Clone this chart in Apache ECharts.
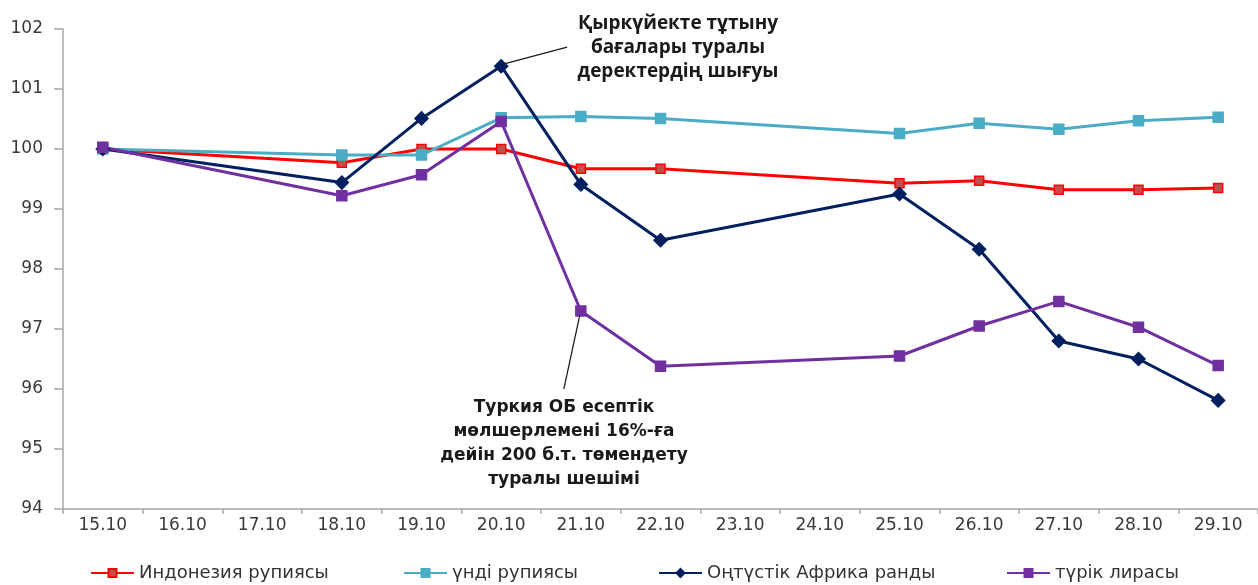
<!DOCTYPE html>
<html>
<head>
<meta charset="utf-8">
<script src="https://cdn.jsdelivr.net/npm/echarts@6/dist/echarts.min.js"></script>
<style>
html,body{margin:0;padding:0;background:#fff;}
#c{width:1258px;height:585px;}
</style>
</head>
<body>
<div id="c"></div>
<script>
const categories = ['15.10','16.10','17.10','18.10','19.10','20.10','21.10','22.10','23.10','24.10','25.10','26.10','27.10','28.10','29.10'];
const names = ['Индонезия рупиясы','үнді рупиясы','Оңтүстік Африка ранды','түрік лирасы'];
const idr = [100.00, null, null, 99.77, 100.00, 100.00, 99.67, 99.67, null, null, 99.43, 99.47, 99.32, 99.32, 99.35];
const inr = [100.00, null, null, 99.90, 99.90, 100.52, 100.54, 100.51, null, null, 100.26, 100.43, 100.33, 100.47, 100.53];
const zar = [100.00, null, null, 99.44, 100.51, 101.38, 99.41, 98.48, null, null, 99.25, 98.33, 96.80, 96.50, 95.81];
const tryL = [100.03, null, null, 99.22, 99.57, 100.46, 97.30, 96.38, null, null, 96.55, 97.05, 97.46, 97.03, 96.39];
const yTicks = {min: 94, max: 102, interval: 1};
const noteTop = ['Қыркүйекте тұтыну', 'бағалары туралы', 'деректердің шығуы'];
const noteBottom = ['Туркия ОБ есептік', 'мөлшерлемені 16%-ға', 'дейін 200 б.т. төмендету', 'туралы шешімі'];
</script>
<script>
const chart = echarts.init(document.getElementById('c'), null, {renderer:'canvas'});
const FONT = 'DejaVu Sans';
function mkSeries(name, data, color, symbol, symbolSize, fill){
  return {
    name, type:'line', data, connectNulls:true, symbol, symbolSize,
    lineStyle:{color, width:3},
    itemStyle:{color: fill, borderColor: color, borderWidth: 1.5},
    emphasis:{disabled:true}, animation:false, z: 3
  };
}
const legendLefts = [85, 398, 653, 1001];
const option = {
  animation:false,
  grid:{left:63, right:0, top:29, bottom:76, containLabel:false},
  xAxis:{
    type:'category', data:categories, boundaryGap:true,
    axisLine:{lineStyle:{color:'#a6a6a6', width:1.5}},
    axisTick:{show:true, length:5, lineStyle:{color:'#a6a6a6', width:1.5}},
    axisLabel:{color:'#3a3a3a', fontFamily:FONT, fontSize:17, margin:8, interval:0},
    splitLine:{show:false}
  },
  yAxis:{
    type:'value', min:yTicks.min, max:yTicks.max, interval:yTicks.interval,
    axisLine:{show:true, lineStyle:{color:'#a6a6a6', width:1.5}},
    axisTick:{show:true, length:9, lineStyle:{color:'#a6a6a6', width:1.5}},
    axisLabel:{color:'#3a3a3a', fontFamily:FONT, fontSize:17, margin:20},
    splitLine:{show:false}
  },
  legend: names.map((n,i)=>({
    data:[n], left: legendLefts[i], top: 559, itemWidth:43, itemHeight:10, itemGap:5,
    textStyle:{color:'#333', fontFamily:FONT, fontSize:18}, selectedMode:false
  })),
  series:[
    mkSeries(names[0], idr, '#ff0000', 'rect', 9, '#c0504d'),
    mkSeries(names[1], inr, '#4bacc6', 'rect', 10, '#4bacc6'),
    mkSeries(names[2], zar, '#002060', 'diamond', 13, '#002060'),
    mkSeries(names[3], tryL, '#7030a0', 'rect', 10, '#7030a0')
  ]
};
chart.setOption(option);

// annotations anchored to data points via the chart's scales
const pTop = chart.convertToPixel({seriesIndex:2}, [5, zar[5]]);
const pBot = chart.convertToPixel({seriesIndex:3}, [6, tryL[6]]);
const graphics = [];
graphics.push({type:'line', shape:{x1:pTop[0]+2, y1:pTop[1]-2, x2:pTop[0]+66, y2:pTop[1]-19}, style:{stroke:'#1a1a1a', lineWidth:1.2}, z:10});
noteTop.forEach((t,i)=>graphics.push({type:'text', x:678, y:24+i*24, style:{text:t, fill:'#1a1a1a', font:'bold 19px "Open Sans"', align:'center', verticalAlign:'middle'}, z:10}));
graphics.push({type:'line', shape:{x1:pBot[0]-1, y1:pBot[1]+4, x2:pBot[0]-17, y2:pBot[1]+78}, style:{stroke:'#1a1a1a', lineWidth:1.2}, z:10});
noteBottom.forEach((t,i)=>graphics.push({type:'text', x:564, y:408+i*24, style:{text:t, fill:'#1a1a1a', font:'bold 17px "DejaVu Sans"', align:'center', verticalAlign:'middle'}, z:10}));
chart.setOption({graphic:graphics});
</script>
</body>
</html>
